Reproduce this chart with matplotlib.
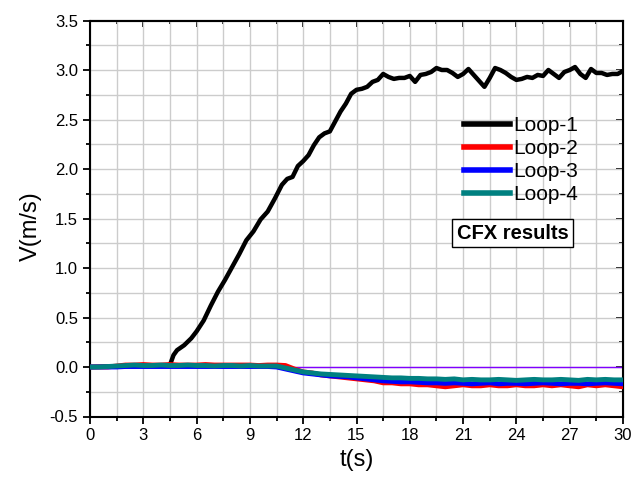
import matplotlib
matplotlib.use("Agg")
import matplotlib.pyplot as plt
import numpy as np
from matplotlib.ticker import MultipleLocator

plt.rcParams['font.family'] = ['Liberation Sans', 'DejaVu Sans']

# Loop-1 (black)
t1 = [0, 4.5, 4.7, 4.9, 5.3, 5.7, 6.0, 6.4, 6.8, 7.2, 7.6, 8.0, 8.4, 8.8, 9.2, 9.6,
      10.0, 10.4, 10.8, 11.1, 11.4, 11.7, 12.0, 12.3, 12.6, 12.9, 13.2, 13.5, 13.8,
      14.1, 14.4, 14.7, 15.0, 15.3, 15.6, 15.9, 16.2, 16.5, 16.8, 17.1, 17.4, 17.7,
      18.0, 18.3, 18.6, 18.9, 19.2, 19.5, 19.8, 20.1, 20.4, 20.7, 21.0, 21.3, 21.6,
      21.9, 22.2, 22.5, 22.8, 23.1, 23.4, 23.7, 24.0, 24.3, 24.6, 24.9, 25.2, 25.5,
      25.8, 26.1, 26.4, 26.7, 27.0, 27.3, 27.6, 27.9, 28.2, 28.5, 28.8, 29.1, 29.4,
      29.7, 30.0]
v1 = [0.0, 0.02, 0.12, 0.17, 0.22, 0.29, 0.36, 0.47, 0.62, 0.76, 0.88, 1.01, 1.14,
      1.28, 1.37, 1.49, 1.57, 1.70, 1.84, 1.90, 1.92, 2.03, 2.08, 2.14, 2.24, 2.32,
      2.36, 2.38, 2.48, 2.58, 2.66, 2.76, 2.80, 2.81, 2.83, 2.88, 2.90, 2.96, 2.93,
      2.91, 2.92, 2.92, 2.94, 2.88, 2.95, 2.96, 2.98, 3.02, 3.00, 3.00, 2.97, 2.93,
      2.96, 3.01, 2.95, 2.89, 2.83, 2.92, 3.02, 3.00, 2.97, 2.93, 2.90, 2.91, 2.93,
      2.92, 2.95, 2.94, 3.00, 2.96, 2.92, 2.98, 3.00, 3.03, 2.96, 2.92, 3.01, 2.97,
      2.97, 2.95, 2.96, 2.96, 2.99]

# Loops 2-4 share a time axis (0.5 s)
t_low = [0.0, 0.5, 1.0, 1.5, 2.0, 2.5, 3.0, 3.5, 4.0, 4.5, 5.0, 5.5, 6.0, 6.5, 7.0,
         7.5, 8.0, 8.5, 9.0, 9.5, 10.0, 10.5, 11.0, 11.5, 12.0, 12.5, 13.0, 13.5,
         14.0, 14.5, 15.0, 15.5, 16.0, 16.5, 17.0, 17.5, 18.0, 18.5, 19.0, 19.5,
         20.0, 20.5, 21.0, 21.5, 22.0, 22.5, 23.0, 23.5, 24.0, 24.5, 25.0, 25.5,
         26.0, 26.5, 27.0, 27.5, 28.0, 28.5, 29.0, 29.5, 30.0]
v2 = [0.0, 0.0, 0.0, 0.01, 0.02, 0.02, 0.025, 0.02, 0.02, 0.025, 0.02, 0.02, 0.02,
      0.025, 0.02, 0.02, 0.02, 0.02, 0.02, 0.015, 0.02, 0.02, 0.015, -0.02, -0.05,
      -0.06, -0.08, -0.09, -0.10, -0.11, -0.12, -0.13, -0.14, -0.16, -0.16, -0.17,
      -0.17, -0.18, -0.18, -0.19, -0.20, -0.19, -0.18, -0.19, -0.19, -0.18, -0.19,
      -0.19, -0.18, -0.19, -0.19, -0.18, -0.19, -0.18, -0.19, -0.20, -0.18, -0.19,
      -0.18, -0.19, -0.20]
v3 = [0.0, 0.0, 0.0, 0.0, 0.005, 0.005, 0.005, 0.005, 0.005, 0.005, 0.005, 0.005,
      0.005, 0.005, 0.005, 0.005, 0.005, 0.005, 0.005, 0.005, 0.005, 0.0, -0.02,
      -0.04, -0.06, -0.07, -0.08, -0.09, -0.095, -0.10, -0.11, -0.12, -0.13, -0.14,
      -0.145, -0.15, -0.15, -0.155, -0.16, -0.16, -0.165, -0.16, -0.165, -0.17,
      -0.165, -0.16, -0.17, -0.165, -0.165, -0.17, -0.165, -0.16, -0.165, -0.17,
      -0.165, -0.165, -0.17, -0.165, -0.16, -0.165, -0.17]
v4 = [0.0, 0.0, 0.005, 0.01, 0.015, 0.02, 0.015, 0.015, 0.02, 0.015, 0.015, 0.02,
      0.015, 0.015, 0.01, 0.015, 0.015, 0.01, 0.015, 0.01, 0.01, 0.01, -0.01, -0.03,
      -0.05, -0.06, -0.07, -0.075, -0.08, -0.085, -0.09, -0.095, -0.10, -0.105,
      -0.11, -0.11, -0.115, -0.115, -0.12, -0.12, -0.125, -0.12, -0.13, -0.125,
      -0.13, -0.13, -0.125, -0.13, -0.135, -0.13, -0.125, -0.13, -0.13, -0.125,
      -0.13, -0.135, -0.125, -0.13, -0.125, -0.13, -0.13]

fig = plt.figure(figsize=(6.44, 4.82), dpi=100)
ax = fig.add_axes([90/644, 1-416.5/482, 533/644, 396/482])

ax.axhline(0, color='#7f00ff', lw=1.0, zorder=2)
ax.plot(t1, v1, color='black', lw=3.2, label='Loop-1', zorder=3)
ax.plot(t_low, v2, color='#ff0000', lw=3.5, label='Loop-2', zorder=4)
ax.plot(t_low, v3, color='#0000ff', lw=3.5, label='Loop-3', zorder=5)
ax.plot(t_low, v4, color='#008080', lw=3.5, label='Loop-4', zorder=6)

ax.set_xlim(0, 30)
ax.set_ylim(-0.5, 3.5)
ax.xaxis.set_major_locator(MultipleLocator(3))
ax.xaxis.set_minor_locator(MultipleLocator(1.5))
ax.yaxis.set_major_locator(MultipleLocator(0.5))
ax.yaxis.set_minor_locator(MultipleLocator(0.25))
ax.set_yticks(np.arange(-0.5, 3.51, 0.5))
ax.set_yticklabels(['-0.5', '0.0', '0.5', '1.0', '1.5', '2.0', '2.5', '3.0', '3.5'])

ax.grid(True, which='both', color='#cccccc', lw=1.0, zorder=0)
ax.set_axisbelow(True)

for s in ax.spines.values():
    s.set_linewidth(1.5)

ax.tick_params(which='both', direction='out', labelsize=12, width=1.3)
ax.tick_params(which='major', length=5)
ax.tick_params(which='minor', length=3)
ax2 = ax.secondary_xaxis('top')
ax2.xaxis.set_major_locator(MultipleLocator(3))
ax2.xaxis.set_minor_locator(MultipleLocator(1.5))
ax2.tick_params(which='both', direction='in', labeltop=False, width=1.3)
ax2.tick_params(which='major', length=5)
ax2.tick_params(which='minor', length=3)
ax3 = ax.secondary_yaxis('right')
ax3.yaxis.set_major_locator(MultipleLocator(0.5))
ax3.yaxis.set_minor_locator(MultipleLocator(0.25))
ax3.tick_params(which='both', direction='in', labelright=False, width=1.3)
ax3.tick_params(which='major', length=5)
ax3.tick_params(which='minor', length=3)

ax.set_xlabel('t(s)', fontsize=17, labelpad=4)
ax.set_ylabel('V(m/s)', fontsize=17)
ax.yaxis.set_label_coords(-0.09, 0.48)

leg = ax.legend(loc='upper left', bbox_to_anchor=(464/644, 1-116/482),
                bbox_transform=fig.transFigure, frameon=False, fontsize=15,
                handlelength=2.2, handletextpad=0.15, labelspacing=0.2,
                borderpad=0, borderaxespad=0)
for line in leg.get_lines():
    line.set_linewidth(4)

ax.text(512.7/644, 1-233/482, 'CFX results', transform=fig.transFigure,
        fontsize=14.5, fontweight='bold', ha='center', va='center',
        bbox=dict(boxstyle='square,pad=0.22', fc='white', ec='black', lw=1))

fig.savefig('out.png', dpi=100)
